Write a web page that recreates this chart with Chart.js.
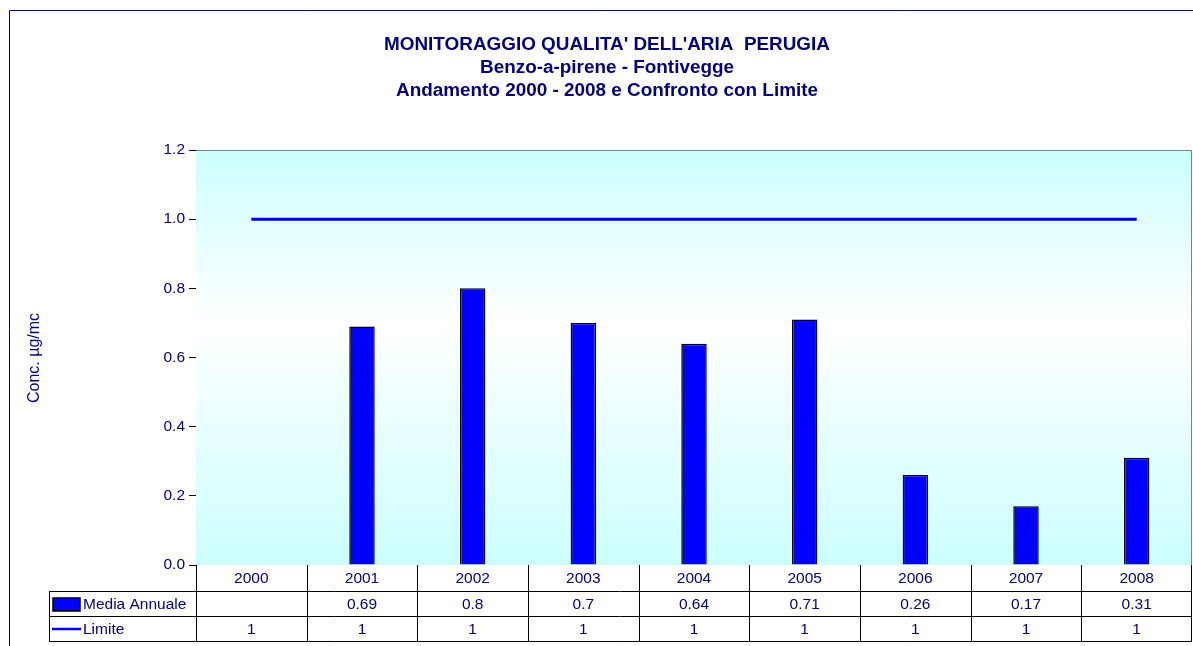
<!DOCTYPE html>
<html>
<head>
<meta charset="utf-8">
<title>Benzo-a-pirene - Fontivegge</title>
<script src="https://cdn.jsdelivr.net/npm/chart.js@4/dist/chart.umd.min.js"></script>
<style>
  html, body { margin: 0; padding: 0; background: #fff; }
  #wrap { width: 1193px; height: 646px; }
</style>
</head>
<body>
<div id="wrap"><canvas id="chart" width="1193" height="646"></canvas></div>
<script>
// dati annuali
var anni = ['2000', '2001', '2002', '2003', '2004', '2005', '2006', '2007', '2008'];
var mediaAnnuale = [null, 0.69, 0.8, 0.7, 0.64, 0.71, 0.26, 0.17, 0.31];
var limite = [1, 1, 1, 1, 1, 1, 1, 1, 1];
var titolo = [
  "MONITORAGGIO QUALITA' DELL'ARIA  PERUGIA",
  'Benzo-a-pirene - Fontivegge',
  'Andamento 2000 - 2008 e Confronto con Limite'
];

var NAVY = '#000080';
var FONT = '"Liberation Sans", Arial, sans-serif';

// sfondo sfumato dell'area del grafico + cornici
var decorazioni = {
  id: 'decorazioni',
  beforeDatasetsDraw: function (chart) {
    var ctx = chart.ctx, a = chart.chartArea;
    ctx.save();
    var g = ctx.createLinearGradient(0, a.top, 0, a.bottom);
    g.addColorStop(0, '#ccffff');
    g.addColorStop(0.42, '#ffffff');
    g.addColorStop(1, '#ccffff');
    ctx.fillStyle = g;
    ctx.fillRect(a.left, a.top, a.right - a.left, a.bottom - a.top);
    ctx.strokeStyle = '#808080';
    ctx.lineWidth = 1;
    ctx.beginPath();
    ctx.moveTo(a.left, a.top + 0.5);
    ctx.lineTo(a.right - 0.5, a.top + 0.5);
    ctx.lineTo(a.right - 0.5, a.bottom);
    ctx.stroke();
    ctx.restore();
  },
  afterDraw: function (chart) {
    var ctx = chart.ctx, a = chart.chartArea, x = chart.scales.x;
    ctx.save();

    // cornice esterna
    ctx.strokeStyle = NAVY;
    ctx.lineWidth = 1;
    ctx.beginPath();
    ctx.moveTo(9.5, 646);
    ctx.lineTo(9.5, 10.5);
    ctx.lineTo(1193, 10.5);
    ctx.stroke();

    // titolo
    ctx.fillStyle = NAVY;
    ctx.textAlign = 'center';
    ctx.textBaseline = 'middle';
    ctx.font = 'bold 18.9px ' + FONT;
    ctx.fillText(titolo[0], 607, 45);
    ctx.fillText(titolo[1], 607, 68);
    ctx.fillText(titolo[2], 607, 91);

    // titolo asse y
    ctx.save();
    ctx.translate(35, 358);
    ctx.rotate(-Math.PI / 2);
    ctx.font = '16px ' + FONT;
    ctx.fillText('Conc. \u00b5g/mc', 0, 0);
    ctx.restore();

    // tabella dati
    var r0 = a.bottom, r1 = r0 + 26, r2 = r1 + 25, r3 = r2 + 25;
    var leftCol = 49;
    var step = x.getPixelForValue(1) - x.getPixelForValue(0);
    ctx.strokeStyle = '#000';
    ctx.lineWidth = 1;
    ctx.beginPath();
    [r1, r2, r3].forEach(function (y) {
      ctx.moveTo(leftCol, y + 0.5);
      ctx.lineTo(a.right, y + 0.5);
    });
    ctx.moveTo(leftCol + 0.5, r1);
    ctx.lineTo(leftCol + 0.5, r3);
    for (var i = 0; i <= anni.length; i++) {
      var bx = Math.round(x.getPixelForValue(i) - step / 2) + 0.5;
      if (i === anni.length) bx = a.right - 0.5;
      ctx.moveTo(bx, r0);
      ctx.lineTo(bx, r3);
    }
    ctx.stroke();

    ctx.font = '15.5px ' + FONT;
    ctx.fillStyle = NAVY;
    anni.forEach(function (anno, i) {
      var cx = x.getPixelForValue(i);
      ctx.fillText(anno, cx, (r0 + r1) / 2 + 1);
      if (mediaAnnuale[i] !== null) ctx.fillText(String(mediaAnnuale[i]), cx, (r1 + r2) / 2 + 1);
      ctx.fillText(String(limite[i]), cx, (r2 + r3) / 2 + 1);
    });

    // legenda nella tabella
    ctx.fillStyle = '#0000ff';
    ctx.fillRect(53, 598, 27, 13);
    ctx.strokeStyle = '#000';
    ctx.lineWidth = 1.5;
    ctx.strokeRect(53, 598, 27, 13);
    ctx.strokeStyle = '#0000ff';
    ctx.lineWidth = 2.5;
    ctx.beginPath();
    ctx.moveTo(52, 629);
    ctx.lineTo(81, 629);
    ctx.stroke();
    ctx.fillStyle = NAVY;
    ctx.textAlign = 'left';
    ctx.fillText(chart.data.datasets[0].label, 83, (r1 + r2) / 2 + 1);
    ctx.fillText(chart.data.datasets[1].label, 83, (r2 + r3) / 2 + 1);
    ctx.restore();
  }
};

new Chart(document.getElementById('chart'), {
  type: 'bar',
  data: {
    labels: anni,
    datasets: [{
      label: 'Media Annuale',
      data: mediaAnnuale,
      backgroundColor: '#0000ff',
      borderColor: '#000',
      borderWidth: 1.5,
      categoryPercentage: 1,
      barPercentage: 0.23,
      order: 2
    }, {
      type: 'line',
      label: 'Limite',
      data: limite,
      borderColor: '#0000ff',
      borderWidth: 3,
      pointRadius: 0,
      fill: false,
      order: 1
    }]
  },
  options: {
    responsive: false,
    animation: false,
    layout: { padding: { left: 0, top: 150, right: 1, bottom: 81 } },
    plugins: {
      legend: { display: false },
      tooltip: { enabled: false }
    },
    scales: {
      x: {
        display: false,
        offset: true
      },
      y: {
        min: 0,
        max: 1.2,
        afterFit: function (scale) { scale.width = 196; },
        ticks: {
          stepSize: 0.2,
          color: NAVY,
          font: { family: FONT, size: 15.5 },
          padding: 4,
          callback: function (v) { return v.toFixed(1); }
        },
        grid: {
          drawOnChartArea: false,
          drawTicks: true,
          tickLength: 7,
          color: '#000'
        },
        border: { display: true, color: '#000', width: 1 }
      }
    }
  },
  plugins: [decorazioni]
});
</script>
</body>
</html>
